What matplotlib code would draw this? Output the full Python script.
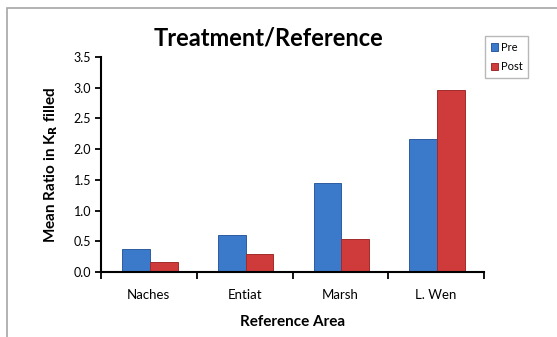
import matplotlib
matplotlib.use('Agg')
import matplotlib.pyplot as plt
from matplotlib.patches import Rectangle
import numpy as np

areas = ['Naches', 'Entiat', 'Marsh', 'L. Wen']
pre = [0.38, 0.61, 1.45, 2.17]
post = [0.17, 0.29, 0.54, 2.97]

plt.rcParams['font.family'] = ['Lato', 'DejaVu Sans']

fig = plt.figure(figsize=(5.57, 3.37), dpi=100)
ax = fig.add_axes([101 / 557, 1 - 272 / 337, 383 / 557, 215 / 337])

# outer chart frame (extends past the image edges, like the source)
fig.patches.append(Rectangle((7 / 557, -0.1), 1.2, 1 - 8 / 337 + 0.1,
                             transform=fig.transFigure, fill=False,
                             edgecolor='#a6a6a6', linewidth=1.2))

x = np.arange(len(areas))
w = 0.29
ax.bar(x - w / 2 + 0.01, pre, w, color='#3b7acb', edgecolor='#2c5c9f', linewidth=0.7, label='Pre')
ax.bar(x + w / 2 + 0.01, post, w, color='#cf3b3b', edgecolor='#a02b2b', linewidth=0.7, label='Post')

ax.set_xlim(-0.5, 3.5)
ax.set_ylim(0, 3.5)
ax.set_yticks(np.arange(0, 3.51, 0.5))
ax.set_yticklabels([f'{v:.1f}' for v in np.arange(0, 3.51, 0.5)], fontsize=9)
ax.set_xticks(x)
ax.set_xticklabels(areas, fontsize=9.5)
ax.set_xticks(np.arange(-0.5, 3.6, 1), minor=True)
ax.tick_params(axis='x', which='major', length=0, pad=12)
ax.tick_params(axis='x', which='minor', length=5, width=1.3, direction='out')
ax.tick_params(axis='y', length=4, width=1.3, direction='out', pad=3)

for s in ['top', 'right']:
    ax.spines[s].set_visible(False)
for s in ['left', 'bottom']:
    ax.spines[s].set_linewidth(1.5)

ax.set_xlabel('Reference Area', fontsize=11, fontweight='bold', labelpad=10)
ax.set_ylabel('Mean Ratio in K$_\\mathbf{R}$ filled', fontsize=11, fontweight='bold', labelpad=10)
fig.text(268 / 557, 1 - 38 / 337, 'Treatment/Reference', fontsize=17, fontweight='bold',
         ha='center', va='center')

fig.legend(loc='upper left', bbox_to_anchor=(485 / 557, 1 - 36 / 337), fontsize=8,
           frameon=True, fancybox=False, edgecolor='#a6a6a6', handlelength=0.7,
           handleheight=0.7, handletextpad=0.2, labelspacing=0.8, borderpad=0.5,
           borderaxespad=0)

fig.savefig('out.png', dpi=100)
